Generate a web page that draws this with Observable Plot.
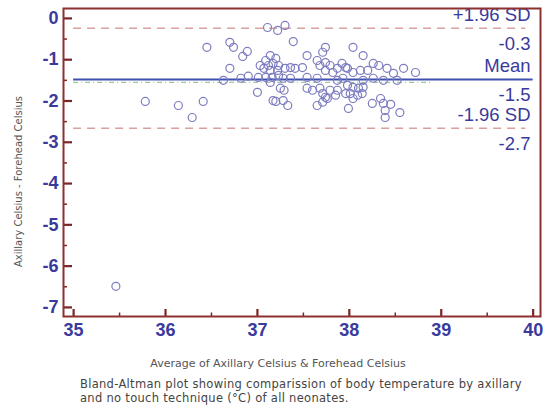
<!DOCTYPE html>
<html><head><meta charset="utf-8">
<script src="https://cdn.jsdelivr.net/npm/d3@7"></script>
<script src="https://cdn.jsdelivr.net/npm/@observablehq/plot@0.6"></script>
<style>
body{margin:0;background:#fff;}
#chart{position:relative;width:543px;height:420px;}
#caption{position:absolute;left:80px;top:378px;font:11.5px "DejaVu Sans",sans-serif;letter-spacing:0.3px;color:#444;line-height:13.5px;white-space:nowrap;}
</style></head><body><div id="chart"><div id="plot"></div><div id="caption">Bland-Altman plot showing comparission of body temperature by axillary<br>and no touch technique (°C) of all neonates.</div></div>
<script>
const avgX = [35.46,35.78,36.14,36.29,36.41,36.45,36.70,36.74,36.84,36.89,37.11,37.22,36.70,37.00,37.20,36.82,36.90,36.63,
  37.03,37.09,37.14,37.20,37.12,37.17,37.23,37.07,37.14,37.22,37.01,37.09,37.16,37.23,37.14,37.29,
  37.30,37.39,37.54,37.74,37.71,37.30,37.36,37.41,37.49,37.65,37.68,37.74,37.79,37.74,37.82,37.87,37.96,
  37.28,37.36,37.54,37.65,37.87,37.93,37.25,37.54,37.60,37.68,37.71,37.74,37.79,37.85,37.87,37.17,37.28,37.33,
  37.65,37.71,37.76,37.99,37.96,38.04,38.15,38.26,37.92,37.98,38.04,38.12,38.20,38.32,38.41,38.48,38.59,38.72,
  38.15,38.37,38.52,38.26,37.98,38.04,38.10,38.15,38.01,38.09,38.14,38.04,38.25,38.34,38.37,38.45,38.39,38.39,38.55];
const diffY = [-6.49,-2.01,-2.11,-2.40,-2.01,-0.70,-0.58,-0.70,-0.92,-0.80,-0.22,-0.29,-1.21,-1.79,-2.01,-1.45,-1.40,-1.50,
  -1.14,-1.02,-0.90,-0.97,-1.14,-1.09,-1.14,-1.21,-1.26,-1.26,-1.43,-1.43,-1.43,-1.38,-1.55,-1.74,
  -0.17,-0.56,-0.90,-0.70,-0.82,-1.21,-1.19,-1.21,-1.19,-1.02,-1.14,-1.07,-1.14,-1.26,-1.31,-1.21,-1.19,
  -1.45,-1.45,-1.43,-1.45,-1.50,-1.45,-1.69,-1.69,-1.74,-1.69,-1.82,-1.91,-1.74,-1.86,-1.74,-1.99,-1.99,-2.11,
  -2.11,-2.03,-1.94,-2.18,-1.82,-0.70,-0.90,-1.09,-1.09,-1.21,-1.31,-1.26,-1.26,-1.14,-1.21,-1.33,-1.21,-1.31,
  -1.50,-1.50,-1.50,-1.45,-1.62,-1.67,-1.69,-1.67,-1.82,-1.86,-1.82,-1.94,-2.06,-1.94,-2.06,-2.08,-2.23,-2.40,-2.28];
const xTicks = [35,36,37,38,39,40];
const xMinorTicks = [35.5,36.5,37.5,38.5,39.5];
const yTicks = [0,-1,-2,-3,-4,-5,-6,-7];
const yMinorTicks = [-0.5,-1.5,-2.5,-3.5,-4.5,-5.5,-6.5];
const limitNames = ["+1.96 SD","Mean","-1.96 SD"];
const limitValues = [-0.24,-1.48,-2.66];
const limitLabels = ["-0.3","-1.5","-2.7"];
const regressionY = [-1.55];
const xLabel = "Average of Axillary Celsius & Forehead Celsius";
const yLabel = "Axillary Celsius - Forehead Celsius";

const W = 543, H = 372, mT = 8, mB = 56, mL = 63, mR = 3;
const xDomain = [34.89, 40.08], yDomain = [-7.22, 0.24];
const pxPerX = (W - mL - mR) / (xDomain[1] - xDomain[0]);
const pxPerY = (H - mT - mB) / (yDomain[1] - yDomain[0]);
const points = avgX.map((x, i) => ({x, y: diffY[i]}));
const limits = limitNames.map((name, i) => ({name, value: limitValues[i], label: limitLabels[i]}));
const tickColor = "#7a2626", labelColor = "#3a3a9c";

const plot = Plot.plot({
  width: W, height: H, marginTop: mT, marginBottom: mB, marginLeft: mL, marginRight: mR,
  style: {fontFamily: '"Liberation Sans", Arial, sans-serif', background: "#fff"},
  x: {domain: xDomain, axis: null},
  y: {domain: yDomain, axis: null},
  marks: [
    Plot.ruleY([limitValues[0], limitValues[2]], {x1: xTicks[0], x2: 39.92, stroke: "#d9a0a0", strokeWidth: 1.5, strokeDasharray: "8,6"}),
    Plot.ruleY(regressionY, {x1: xTicks[0], x2: 38.9, stroke: "#9cc89c", strokeWidth: 1.2, strokeDasharray: "5,3,1,3"}),
    Plot.ruleY([limitValues[1]], {x1: xTicks[0], x2: xTicks[5], stroke: "#4050b0", strokeWidth: 2}),
    Plot.dot(points, {x: "x", y: "y", r: 4, stroke: "#7c7cc0", strokeWidth: 1.2, fill: "none"}),
    Plot.text(limits, {x: xDomain[1], y: "value", text: "name", textAnchor: "end", dx: -10, dy: -13, fontSize: 18.5, fill: labelColor}),
    Plot.text(limits, {x: xDomain[1], y: "value", text: "label", textAnchor: "end", dx: -10, dy: 16, fontSize: 18.5, fill: labelColor}),
    // tick marks (inside the frame)
    Plot.ruleY(yTicks, {x1: xDomain[0], x2: xDomain[0] + 9 / pxPerX, stroke: tickColor, strokeWidth: 2.2}),
    Plot.ruleY(yMinorTicks, {x1: xDomain[0], x2: xDomain[0] + 4 / pxPerX, stroke: tickColor, strokeWidth: 1.5}),
    Plot.ruleX(xTicks, {y1: yDomain[0], y2: yDomain[0] + 7 / pxPerY, stroke: tickColor, strokeWidth: 2.2}),
    Plot.ruleX(xMinorTicks, {y1: yDomain[0], y2: yDomain[0] + 3.5 / pxPerY, stroke: tickColor, strokeWidth: 1.5}),
    // tick labels
    Plot.text(yTicks, {x: xDomain[0], y: d => d, text: d => String(d), textAnchor: "end", dx: -5, fontSize: 18, fontWeight: "bold", fill: labelColor}),
    Plot.text(xTicks, {x: d => d, y: yDomain[0], text: d => String(d), lineAnchor: "top", dy: 7, fontSize: 18, fontWeight: "bold", fill: labelColor}),
    Plot.frame({stroke: "#8c3030", strokeWidth: 2}),
    Plot.text([xLabel], {frameAnchor: "bottom", textAnchor: "middle", lineAnchor: "middle", dx: -24, dy: 47, fontSize: 11, letterSpacing: "0.35px", fill: "#555", fontFamily: '"DejaVu Sans", sans-serif'}),
    Plot.text([yLabel], {frameAnchor: "left", textAnchor: "middle", lineAnchor: "middle", rotate: -90, dx: -45, dy: 19, fontSize: 10, fill: "#555", fontFamily: '"DejaVu Sans", sans-serif'})
  ]
});
document.getElementById("plot").appendChild(plot);
</script></body></html>
